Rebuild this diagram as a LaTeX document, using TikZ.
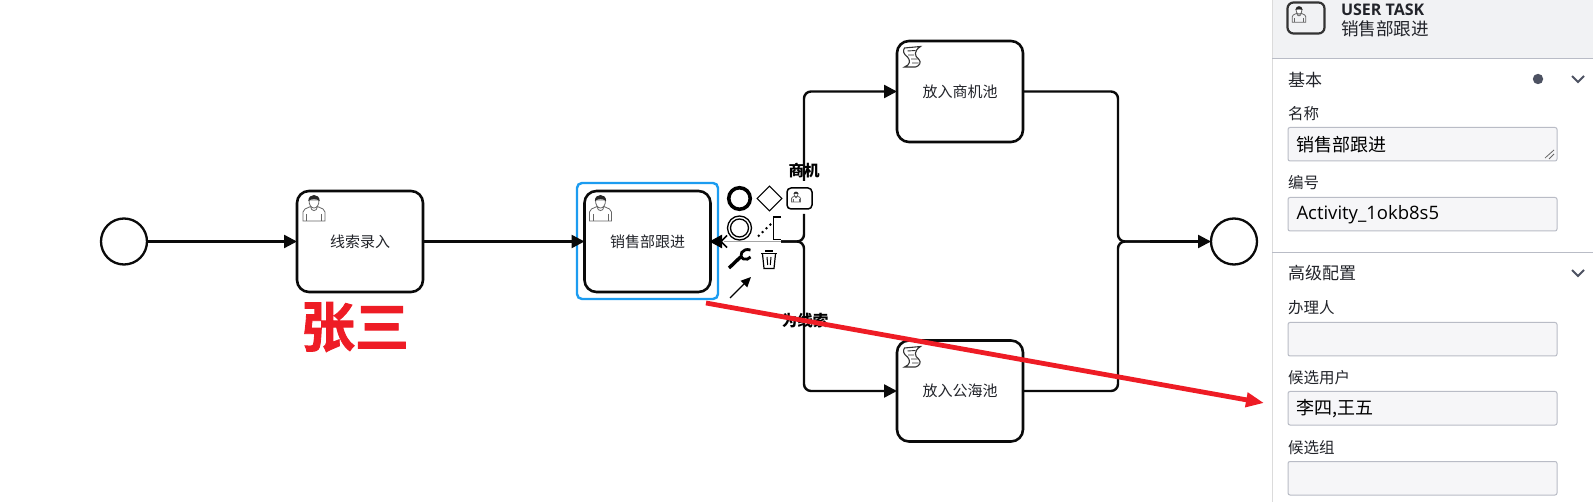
\documentclass[tikz,border=0pt]{standalone}
\usepackage{fontspec}
\setmainfont{Noto Sans CJK SC}
\newfontfamily\latinf{Open Sans}
\newfontfamily\heavyf[FakeBold=1.6]{Noto Sans CJK SC Bold}
\usetikzlibrary{arrows.meta,calc}
\definecolor{flowblack}{HTML}{0A0A0A}
\definecolor{panelline}{HTML}{B9BCC6}
\definecolor{panelbg}{HTML}{F1F2F4}
\definecolor{fieldbg}{HTML}{F6F6F8}
\definecolor{selblue}{HTML}{1C9CF0}
\definecolor{redmark}{HTML}{EE1C25}
\definecolor{chev}{HTML}{4D5262}
\definecolor{labelc}{HTML}{22242A}
\tikzset{
  x=1pt,y=-1pt,
  every node/.style={outer sep=0pt,inner sep=0pt},
  task/.style={draw=flowblack,line width=2.6pt,rounded corners=12pt,minimum width=126pt,minimum height=101pt,fill=white,font=\fontsize{15}{17}\selectfont,text=labelc},
  event/.style={draw=flowblack,line width=2.3pt,circle,minimum size=46pt,fill=white},
  flow/.style={draw=flowblack,line width=2.4pt,rounded corners=7pt},
  flowtip/.style={-{Triangle[length=13pt,width=13pt]}},
  field/.style={draw=panelline,line width=1pt,fill=fieldbg,rounded corners=2pt,minimum width=269pt,minimum height=33.5pt,anchor=north west},
  ftext/.style={anchor=west,font=\fontsize{18}{20}\selectfont,text=black},
  flabel/.style={anchor=west,font=\fontsize{15.5}{18}\selectfont,text=labelc},
  fhead/.style={anchor=west,font=\fontsize{17}{20}\selectfont,text=labelc},
  seplabel/.style={font=\bfseries\fontsize{15.5}{17}\selectfont,text=black},
  chevron/.style={draw=chev,line width=2pt},
  padicon/.style={draw=black,line width=1pt},
  ico/.style={draw=black!60,line width=.8pt},
  pics/userico/.style={code={
    % face and neck
    \draw[ico,fill=white] (-5,-6) .. controls (-5,-1) and (-3,2) .. (0,2) .. controls (3,2) and (5,-1) .. (5,-6) -- cycle;
    % hair
    \fill[black!85] (-5.6,-5) .. controls (-6,-13) and (6,-13) .. (5.6,-5) .. controls (3,-7.5) and (-3,-7.5) .. (-5.6,-5) -- cycle;
    % body
    \draw[ico] (-3.5,0.5) -- (-9,3) -- (-11,6) -- (-11,15) -- (11,15) -- (11,6) -- (9,3) -- (3.5,0.5);
    \draw[ico] (-3.5,0.5) .. controls (-3,6) and (3,6) .. (3.5,0.5);
    \draw[ico] (-7.5,8) -- (-7.5,15) (7.5,8) -- (7.5,15);
  }},
  pics/scriptico/.style={code={
    \draw[draw=black!80,line width=1.1pt,fill=white] (-8,-9) -- (8,-10.5) .. controls (1,-6) and (2,-1) .. (6,2) .. controls (9.5,5) and (7,9) .. (3,10) -- (-8,10) .. controls (-2,8) and (-2,3) .. (-5,0) .. controls (-9,-3) and (-10,-6) .. (-8,-9) -- cycle;
    \draw[draw=black!80,line width=.9pt] (-5,-6) -- (3,-6.5) (-4.5,-2) -- (1.5,-2) (-1.5,2) -- (5,2) (-.5,6) -- (6,6);
  }}
}
\begin{document}
\begin{tikzpicture}
\useasboundingbox (0,0) rectangle (1593,502);
\fill[white] (0,0) rectangle (1593,502);

% tasks and events
\node[event] (start) at (124,241.5) {};
\node[task] (t1) at (360,241.5) {线索录入};
\node[draw=selblue,line width=2.4pt,rounded corners=5pt,minimum width=141pt,minimum height=116pt] (sel) at (647.5,241) {};
\node[task] (t2) at (647.5,241.5) {销售部跟进};
\node[task] (t3) at (960,91.5) {放入商机池};
\node[task] (t4) at (960,391) {放入公海池};
\node[event] (end) at (1234,241.5) {};

% flows
\draw[flow,flowtip] (start) -- (t1);
\draw[flow,flowtip] (t1) -- (t2);
\coordinate (u1) at (804,181);
\coordinate (u2) at (804,214);
\coordinate (jl) at (781,241.5);
\coordinate (jr) at (1150,241.5);
\draw[flow,flowtip] (u1) -- (804,91.5) -- (t3.west);
\draw[flow] (u2) -- (804,241.5) -- (jl);
\draw[flow,flowtip] (jl) -- (804,241.5) -- (804,391) -- (t4.west);
\draw[flow] (t3.east) -- (1118,91.5) -- (1118,241.5) -- (jr);
\draw[flow] (t4.east) -- (1118,391) -- (1118,241.5) -- (jr);
\draw[flow,flowtip] (jr) -- (end);
\draw[draw=black!35,line width=1.2pt] (jl) -- (724,241.5);
\draw[draw=black,line width=1pt,fill=black] (t2.east) -- ++(11,-6) -- ++(0,12) -- cycle;
\draw[draw=black,line width=1.5pt] (727,235.5) -- (721,241.5) -- (727,247.5);

% flow labels
\node[seplabel] (lab1) at (804,170.5) {商机};
\node[seplabel] (lab2) at (805,320.5) {为线索};

% task markers
\pic at (314,206) {userico};
\pic at (600.5,206) {userico};
\pic at (912.5,57) {scriptico};
\pic at (912.5,357) {scriptico};

% context pad
\node[draw=black,line width=3.6pt,circle,minimum size=21.5pt] (pad1) at (739.5,198.5) {};
\node[draw=black,line width=1pt,minimum size=17.5pt,rotate=45] (pad2) at (769.5,198.5) {};
\node[draw=black,line width=1.5pt,rounded corners=4pt,minimum width=25pt,minimum height=21pt,fill=white] (pad3) at (799.5,198.5) {};
\pic[scale=.4] at (796,196) {userico};
\node[draw=black,line width=1.3pt,circle,minimum size=24pt] (pad4) at (739.5,228) {};
\node[draw=black,line width=1.3pt,circle,minimum size=18pt] (pad5) at (739.5,228) {};
\draw[draw=black,line width=2pt,dash pattern=on 2pt off 3.4pt] (758,236.5) -- (772,223);
\draw[padicon,line width=1.3pt] (781,217) -- (773.5,217) -- (773.5,239.5) -- (781,239.5);
% wrench
\draw[draw=black,line width=3.4pt] (729,268) -- (740.5,257);
\draw[draw=black,line width=2.8pt] (750.5,250) .. controls (742,247.5) and (738,256) .. (743.5,259) .. controls (746,260) and (749,259) .. (750.5,257);
% trash
\fill[black] (765,250) rectangle (773,252);
\draw[draw=black,line width=1.5pt] (761,253.5) -- (777,253.5);
\draw[draw=black,line width=1.2pt] (762.5,254) -- (764,268.5) -- (774,268.5) -- (775.5,254);
\draw[draw=black,line width=1pt] (767,257) -- (767.7,265) (771,257) -- (770.3,265);
% connect tool
\draw[draw=black,line width=1.4pt,-{Triangle[length=10pt,width=9pt]}] (730,298) -- (751,277);

% red mark
\node[text=redmark,font=\heavyf\fontsize{54}{60}\selectfont] (zs) at (355,327) {张三};
\coordinate (ra) at (706,303);
\coordinate (rb) at (1264,403);
\draw[draw=redmark,line width=4.8pt,-{Triangle[length=18pt,width=14pt]}] (ra) -- (rb);

% panel
\fill[panelbg] (1272,0) rectangle (1593,58);
\draw[draw=black!14,line width=1pt] (1272.5,0) -- (1272.5,502);
\draw[draw=panelline,line width=1pt] (1272,58.5) -- (1593,58.5);
\draw[draw=panelline,line width=1pt] (1272,252.5) -- (1593,252.5);
\node[draw=black!80,line width=2.2pt,rounded corners=6pt,minimum width=37pt,minimum height=31pt,fill=panelbg] (hico) at (1306,18) {};
\pic[scale=.62] at (1299,13) {userico};
\node[anchor=west,font=\latinf\bfseries\fontsize{16}{18}\selectfont,text=labelc] (htitle) at (1341,10) {USER TASK};
\node[anchor=west,font=\fontsize{17.6}{20}\selectfont,text=labelc] (hname) at (1341,28.5) {销售部跟进};

\node[fhead] (h1) at (1288,80) {基本};
\fill[chev] (1538,79) circle (5.2pt);
\draw[chevron] (1572,76) -- (1578,82) -- (1584,76);
\node[flabel] (l1) at (1288,114) {名称};
\node[field] (f1) at (1288,127.5) {};
\node[ftext] at (1296,145) {销售部跟进};
\draw[draw=black!60,line width=.8pt] (1545,158) -- (1554,150) (1549,159) -- (1554,154);
\node[flabel] (l2) at (1288,183) {编号};
\node[field] (f2) at (1288,197.5) {};
\node[ftext,font=\latinf\fontsize{18.5}{20}\selectfont] at (1296.5,215) {Activity\_1okb8s5};

\node[fhead] (h2) at (1288,273.5) {高级配置};
\draw[chevron] (1572,270) -- (1578,276) -- (1584,270);
\node[flabel] (l3) at (1288,308) {办理人};
\node[field] (f3) at (1288,322.5) {};
\node[flabel] (l4) at (1288,377.5) {候选用户};
\node[field] (f4) at (1288,391.5) {};
\node[ftext] at (1296,409) {李四,王五};
\node[flabel] (l5) at (1288,447.5) {候选组};
\node[field] (f5) at (1288,461.5) {};
\end{tikzpicture}
\end{document}
